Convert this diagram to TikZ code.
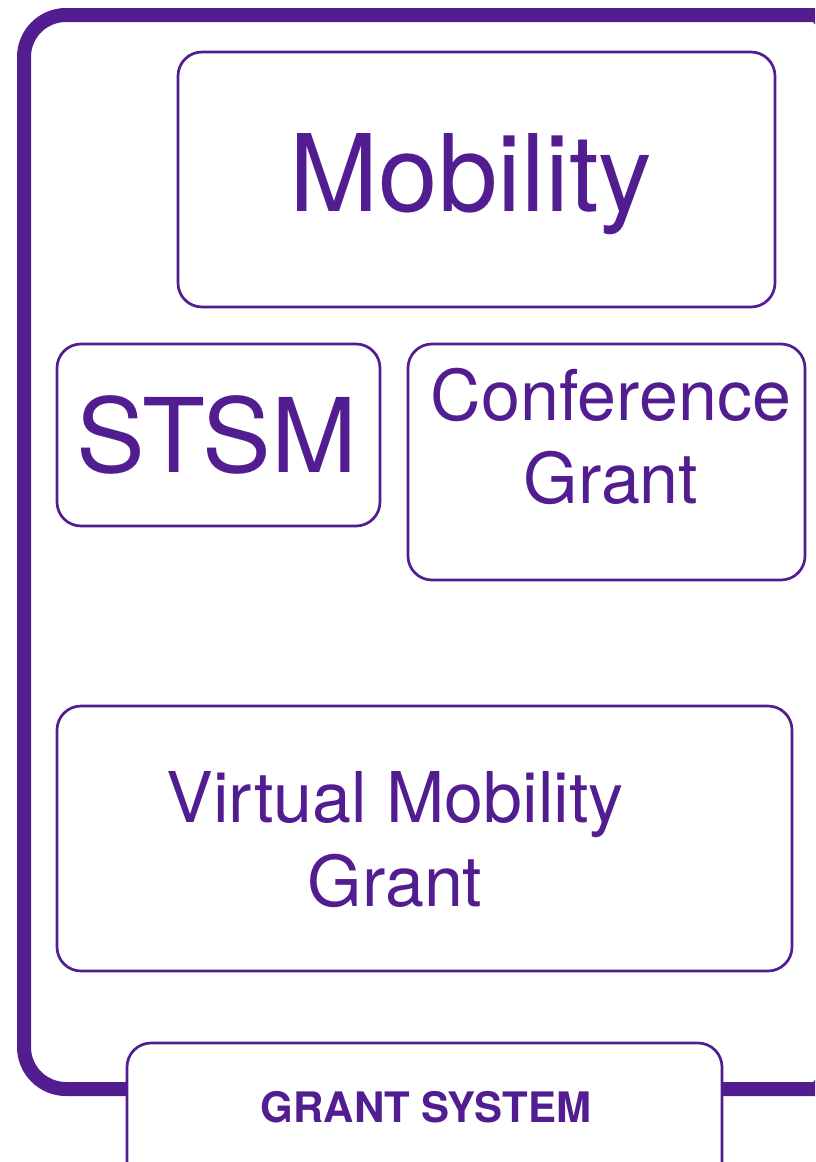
\documentclass[tikz,border=0pt]{standalone}
\usepackage{xcolor}
\usepackage{fontspec}
\setmainfont{TeX Gyre Heros}
\usepackage{tikz}
\usetikzlibrary{positioning}
\definecolor{grantpurple}{HTML}{521D91}

\begin{document}
\begin{tikzpicture}[x=1pt, y=-1pt,
  grantbox/.style={draw=grantpurple, line width=2.7pt, rounded corners=24pt, inner sep=0pt},
  granttext/.style={text=grantpurple, align=center, inner sep=0pt}]
\useasboundingbox (0,0) rectangle (815,1162);
\clip (0,0) rectangle (815,1162);
% outer frame
\draw[grantpurple, line width=14pt] (400,15) [rounded corners=42pt] -- (24,15) -- (24,1089) -- (400,1089)
  -- (778,1089) .. controls (812,1089) and (830,1078) .. (832,1030) -- (832,70) .. controls (830,28) and (812,15) .. (778,15) -- cycle;
% boxes
\node[grantbox, minimum width=597pt, minimum height=255pt] (mob) at (476.5,179.5) {};
\node[grantbox, minimum width=323pt, minimum height=182pt] (stsm) at (218.5,435) {};
\node[grantbox, minimum width=397pt, minimum height=236pt] (conf) at (606.5,462) {};
\node[grantbox, minimum width=735pt, minimum height=265pt] (vmg) at (424.5,838.5) {};
\node[grantbox, fill=white, minimum width=595pt, minimum height=160pt] (gs) at (424.5,1123) {};
% texts
\node[granttext, font=\fontsize{107}{107}\selectfont] (mob_t) at (471,184) {Mobility};
\node[granttext, font=\fontsize{103}{103}\selectfont] (stsm_t) at (217,435) {STSM};
\node[granttext, font=\fontsize{70}{83}\selectfont] (conf_t) at (611,436) {Conference\\Grant};
\node[granttext, font=\fontsize{70}{84}\selectfont] (vmg_t) at (395,839.5) {Virtual Mobility\\Grant};
\node[granttext, font=\fontsize{42}{42}\selectfont\bfseries] (gs_t) at (426,1107) {GRANT SYSTEM};
\end{tikzpicture}
\end{document}
